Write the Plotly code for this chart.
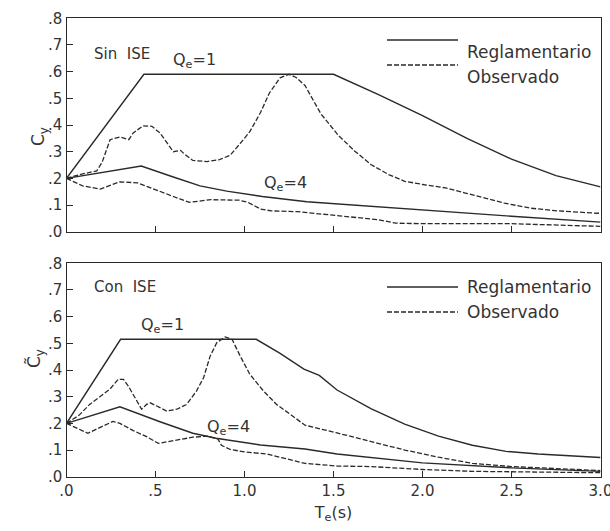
import plotly.graph_objects as go

# ---------------- data ----------------
# Top panel: Sin ISE
sin_reg1_T = [0, 0.435, 1.5, 1.75, 2.0, 2.25, 2.5, 2.75, 3.0]
sin_reg1_C = [0.2, 0.59, 0.59, 0.515, 0.435, 0.35, 0.272, 0.21, 0.168]

sin_reg4_T = [0, 0.42, 0.6, 0.75, 0.9, 1.1, 1.35, 1.6, 2.0, 2.5, 3.0]
sin_reg4_C = [0.2, 0.246, 0.205, 0.172, 0.152, 0.132, 0.112, 0.1, 0.083, 0.058, 0.036]

sin_obs1_T = [0, 0.08, 0.17, 0.2, 0.245, 0.3, 0.35, 0.375, 0.43, 0.48, 0.525, 0.56,
              0.6, 0.64, 0.665, 0.71, 0.79, 0.86, 0.92, 0.975, 1.03, 1.09, 1.14, 1.2,
              1.25, 1.29, 1.34, 1.43, 1.53, 1.62, 1.71, 1.81, 1.9, 2.01, 2.13, 2.24,
              2.35, 2.46, 2.61, 2.76, 2.96, 3.0]
sin_obs1_C = [0.2, 0.215, 0.228, 0.26, 0.345, 0.355, 0.345, 0.37, 0.397, 0.395, 0.37, 0.335,
              0.3, 0.305, 0.29, 0.267, 0.263, 0.27, 0.287, 0.33, 0.375, 0.447, 0.52, 0.577,
              0.59, 0.578, 0.548, 0.441, 0.359, 0.302, 0.252, 0.214, 0.189, 0.176, 0.164, 0.145,
              0.126, 0.107, 0.088, 0.078, 0.07, 0.069]

sin_obs4_T = [0, 0.09, 0.19, 0.25, 0.3, 0.4, 0.47, 0.56, 0.64, 0.69, 0.75, 0.81, 0.97,
              1.02, 1.09, 1.15, 1.3, 1.45, 1.6, 1.75, 1.85, 2.0, 2.5, 3.0]
sin_obs4_C = [0.2, 0.172, 0.16, 0.175, 0.187, 0.183, 0.165, 0.14, 0.122, 0.11, 0.115, 0.12, 0.118,
              0.11, 0.085, 0.078, 0.075, 0.065, 0.055, 0.045, 0.032, 0.03, 0.03, 0.02]

# Bottom panel: Con ISE
con_reg1_T = [0, 0.304, 1.066, 1.2, 1.334, 1.42, 1.52, 1.71, 1.9, 2.09, 2.28, 2.47, 2.65, 3.0]
con_reg1_C = [0.2, 0.515, 0.515, 0.462, 0.403, 0.38, 0.325, 0.255, 0.197, 0.152, 0.118, 0.095, 0.085, 0.072]

con_reg4_T = [0, 0.30, 0.525, 0.71, 0.84, 1.09, 1.34, 1.52, 2.0, 2.5, 3.0]
con_reg4_C = [0.2, 0.262, 0.206, 0.163, 0.144, 0.119, 0.104, 0.085, 0.052, 0.033, 0.02]

con_obs1_T = [0, 0.07, 0.13, 0.19, 0.244, 0.29, 0.32, 0.347, 0.385, 0.422, 0.45, 0.47, 0.507,
              0.563, 0.62, 0.675, 0.73, 0.77, 0.807, 0.844, 0.891, 0.93, 0.976, 1.03, 1.107,
              1.18, 1.257, 1.34, 1.52, 1.71, 1.9, 2.09, 2.28, 2.5, 3.0]
con_obs1_C = [0.2, 0.23, 0.271, 0.3, 0.328, 0.365, 0.365, 0.34, 0.296, 0.253, 0.271, 0.277, 0.265,
              0.246, 0.253, 0.271, 0.321, 0.371, 0.452, 0.502, 0.524, 0.515, 0.452, 0.384, 0.321,
              0.271, 0.234, 0.193, 0.164, 0.132, 0.10, 0.073, 0.05, 0.038, 0.023]

con_obs4_T = [0, 0.12, 0.26, 0.3, 0.375, 0.45, 0.516, 0.6, 0.71, 0.79, 0.85, 0.87, 0.92, 1.0,
              1.126, 1.34, 1.52, 1.71, 2.0, 2.28, 2.5, 3.0]
con_obs4_C = [0.2, 0.163, 0.207, 0.2, 0.173, 0.15, 0.125, 0.135, 0.148, 0.152, 0.142, 0.118, 0.102, 0.093,
              0.085, 0.05, 0.04, 0.038, 0.027, 0.02, 0.018, 0.015]

x_tickvals = [0, 0.5, 1.0, 1.5, 2.0, 2.5, 3.0]
x_ticktext = [".0", ".5", "1.0", "1.5", "2.0", "2.5", "3.0"]
y_tickvals = [0, 0.1, 0.2, 0.3, 0.4, 0.5, 0.6, 0.7, 0.8]
y_ticktext = [".0", ".1", ".2", ".3", ".4", ".5", ".6", ".7", ".8"]

# ---------------- figure ----------------
INK = "#2a2a2a"
FONT = "DejaVu Sans"
solid = dict(color=INK, width=1.4)
dashed = dict(color=INK, width=1.3, dash="5px,2px")

fig = go.Figure()
series = [
    (sin_reg1_T, sin_reg1_C, solid, "x", "y", "Reglamentario Qe=1"),
    (sin_reg4_T, sin_reg4_C, solid, "x", "y", "Reglamentario Qe=4"),
    (sin_obs1_T, sin_obs1_C, dashed, "x", "y", "Observado Qe=1"),
    (sin_obs4_T, sin_obs4_C, dashed, "x", "y", "Observado Qe=4"),
    (con_reg1_T, con_reg1_C, solid, "x2", "y2", "Reglamentario Qe=1"),
    (con_reg4_T, con_reg4_C, solid, "x2", "y2", "Reglamentario Qe=4"),
    (con_obs1_T, con_obs1_C, dashed, "x2", "y2", "Observado Qe=1"),
    (con_obs4_T, con_obs4_C, dashed, "x2", "y2", "Observado Qe=4"),
]
for T, C, ln, xa, ya, nm in series:
    fig.add_trace(go.Scatter(x=T, y=C, mode="lines", line=ln, xaxis=xa, yaxis=ya,
                             name=nm, showlegend=False, hoverinfo="x+y"))

W, H = 610, 531
xl, xr = 66.5, 600.5
top_t, top_b = 18.3, 231.7
bot_t, bot_b = 263.3, 476.7

def px(v):
    return v / W

def py(v):
    return 1 - v / H

axis_common = dict(range=[0, 3.0], tickvals=x_tickvals, ticktext=x_ticktext, ticks="inside",
                   ticklen=6, tickcolor=INK, showline=True, linecolor=INK, linewidth=1.3,
                   mirror=True, showgrid=False, zeroline=False, ticklabeloverflow="allow",
                   tickfont=dict(family=FONT, size=15, color="#333"),
                   domain=[px(xl), px(xr)])
yaxis_common = dict(range=[0, 0.8], tickvals=y_tickvals, ticktext=y_ticktext, ticks="inside",
                    ticklen=6, tickcolor=INK, showline=True, linecolor=INK, linewidth=1.3,
                    mirror=True, showgrid=False, zeroline=False, ticklabeloverflow="allow",
                    tickfont=dict(family=FONT, size=15, color="#333"))

fig.update_layout(
    width=W, height=H, autosize=False,
    margin=dict(l=0, r=0, t=0, b=0, autoexpand=False),
    paper_bgcolor="white", plot_bgcolor="white",
    font=dict(family=FONT, size=15, color="#333"),
    xaxis=dict(axis_common, anchor="y", showticklabels=False),
    yaxis=dict(yaxis_common, anchor="x", domain=[py(top_b), py(top_t)]),
    xaxis2=dict(axis_common, anchor="y2",
                title=dict(text="T<sub>e</sub>(s)", standoff=7, font=dict(family=FONT, size=16))),
    yaxis2=dict(yaxis_common, anchor="x2", domain=[py(bot_b), py(bot_t)]),
)

ann = []
# y-axis titles
ann.append(dict(text="C<sub>y</sub>", x=px(26), y=py(125), xref="paper", yref="paper",
                textangle=-90, showarrow=False, font=dict(family=FONT, size=17)))
ann.append(dict(text="C\u0303<sub>y</sub>", x=px(22), y=py(370), xref="paper", yref="paper",
                textangle=-90, showarrow=False, font=dict(family=FONT, size=17)))
# panel titles
ann.append(dict(text="Sin  ISE", x=px(92), y=py(43), xref="paper", yref="paper", xanchor="left",
                showarrow=False, font=dict(family=FONT, size=15)))
ann.append(dict(text="Con  ISE", x=px(92), y=py(287), xref="paper", yref="paper", xanchor="left",
                showarrow=False, font=dict(family=FONT, size=15)))
# curve labels (data coordinates)
ann.append(dict(text="Q<sub>e</sub>=1", x=0.72, y=0.64, xref="x", yref="y", showarrow=False,
                font=dict(family=FONT, size=16)))
ann.append(dict(text="Q<sub>e</sub>=4", x=1.23, y=0.18, xref="x", yref="y", showarrow=False,
                font=dict(family=FONT, size=16)))
ann.append(dict(text="Q<sub>e</sub>=1", x=0.54, y=0.565, xref="x2", yref="y2", showarrow=False,
                font=dict(family=FONT, size=16)))
ann.append(dict(text="Q<sub>e</sub>=4", x=0.91, y=0.185, xref="x2", yref="y2", showarrow=False,
                font=dict(family=FONT, size=16)))

# legends (one per panel), drawn as key lines + labels
shapes = []
for ly in (40, 287):
    for k, (lab, style) in enumerate([("Reglamentario", solid), ("Observado", dashed)]):
        yy = ly + 25 * k
        shapes.append(dict(type="line", xref="paper", yref="paper",
                           x0=px(387), x1=px(458), y0=py(yy), y1=py(yy),
                           line=dict(color=INK, width=1.3, dash=style.get("dash", "solid"))))
        ann.append(dict(text=lab, x=px(465), y=py(yy), xref="paper", yref="paper",
                        xanchor="left", showarrow=False, font=dict(family=FONT, size=17)))

fig.update_layout(annotations=ann, shapes=shapes)
fig.write_html("out.html")
